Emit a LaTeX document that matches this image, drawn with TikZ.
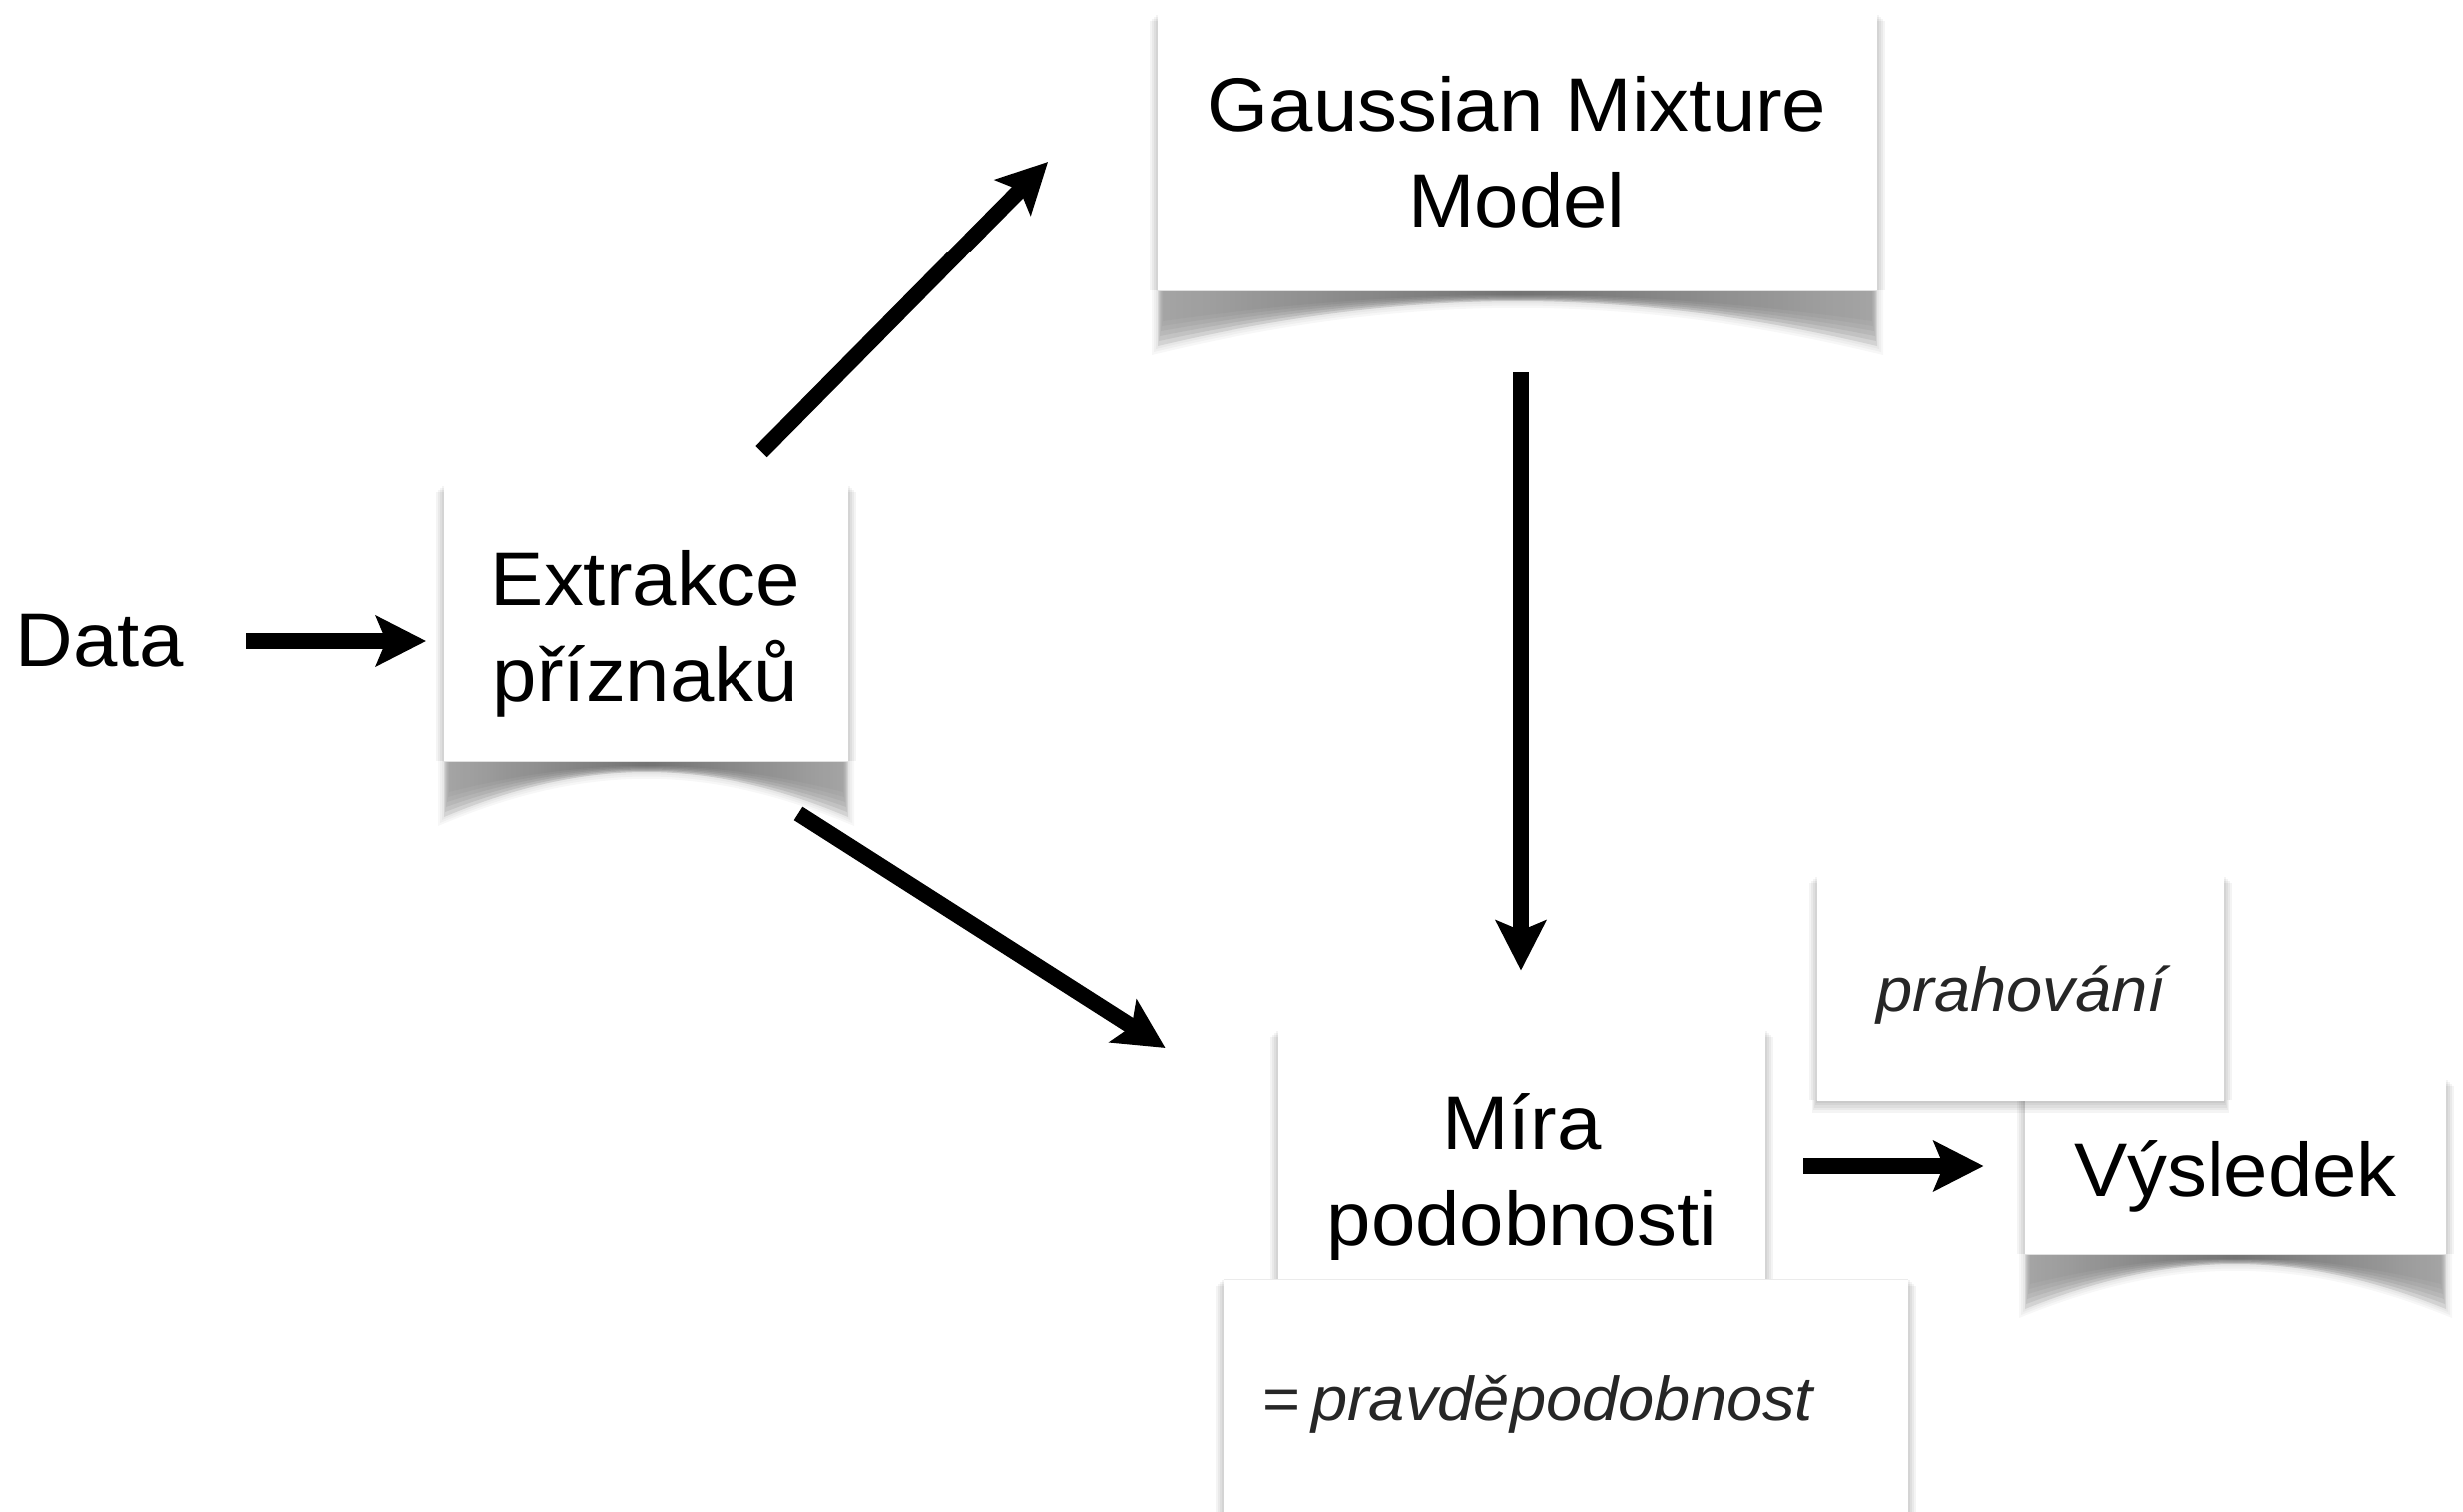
\documentclass[tikz,border=0pt]{standalone}
\usepackage{fontspec}
\setmainfont{Liberation Sans}[FakeStretch=1.05]
\usetikzlibrary{arrows.meta,calc}
% soft side shadows: left top right bottom
\newcommand{\sidesh}[4]{%
  \foreach \k in {1,...,4}{%
    \fill[black,opacity=0.045] (#1-2*\k,#2+2*\k) rectangle (#1,#4);
    \fill[black,opacity=0.045] (#3,#2+2*\k) rectangle (#3+2*\k,#4);}}
% soft bottom shadow: left right bottom
\newcommand{\botsh}[3]{%
  \foreach \k in {1,...,5}{\fill[black,opacity=0.045] (#1-\k,#3) rectangle (#2+\k,#3+2.5*\k);}}
% curled shadow: left right bottom
\newcommand{\curlsh}[3]{%
  \foreach \k in {1,...,3}{\fill[black,opacity=0.03] (#1-2*\k,#3) -- (#1-2*\k,#3+56+3*\k) .. controls ({#1+0.35*(#2-#1)},#3-4+2*\k) and ({#2-0.35*(#2-#1)},#3-4+2*\k) .. (#2+2*\k,#3+56+3*\k) -- (#2+2*\k,#3) -- cycle;}
  \foreach \k in {0,...,5}{%
  \shade[left color=black!40, right color=black!40, middle color=black!64, opacity=0.25]
    (#1+\k,#3) -- (#1+\k,#3+56-5*\k) .. controls ({#1+0.35*(#2-#1)},#3-4) and ({#2-0.35*(#2-#1)},#3-4) .. (#2-\k,#3+56-5*\k) -- (#2-\k,#3) -- cycle;}}
\tikzset{
  card/.style={fill=white, inner sep=0pt},
  big/.style={align=center, font=\fontsize{38}{48}\selectfont},
  note/.style={font=\fontsize{31}{40}\selectfont\itshape, text=black!85},
  arr/.style={line width=8pt, -{Stealth[length=25pt,width=25pt,inset=5pt]}}
}
\begin{document}
\begin{tikzpicture}[x=0.5pt,y=-0.5pt]
\fill[white] (0,0) rectangle (2468,1515);
\useasboundingbox (0,0) rectangle (2468,1515);

\node[inner sep=0pt, big] (data) at (100,642) {Data};

% Extrakce
\sidesh{445}{485}{850}{763}
\curlsh{445}{850}{763}
\node[card, minimum width=202.5pt, minimum height=139pt,
  label={[big, yshift=-5.5pt]center:{Extrakce\\příznaků}}] (ext) at (647,624) {};
\draw[black!12] (ext.south west) -- (ext.south east);

% GMM
\sidesh{1160}{13}{1881}{291}
\curlsh{1160}{1881}{291}
\node[card, minimum width=360.5pt, minimum height=139pt,
  label={[big]center:{Gaussian Mixture\\Model}}] (gmm) at (1520,152) {};
\draw[black!12] (gmm.south west) -- (gmm.south east);

% Mira
\sidesh{1281}{1031}{1769}{1315}
\node[card, minimum width=244pt, minimum height=142pt,
  label={[big, yshift=-3pt]center:{Míra\\podobnosti}}] (mira) at (1525,1173) {};

% pravdepodobnost
\sidesh{1226}{1281}{1912}{1530}
\node[card, minimum width=343pt, minimum height=117pt,
  label={[note, anchor=west, yshift=-3.5pt, xshift=16.5pt]west:{\upshape=\,\itshape pravděpodobnost}}] (pravd) at (1569,1400) {};
\draw[black!8] (pravd.north west) -- (pravd.north east);

% Vysledek
\sidesh{2029}{1080}{2451}{1256}
\curlsh{2029}{2451}{1256}
\node[card, minimum width=211pt, minimum height=88pt,
  label={[big, yshift=-5pt]center:{Výsledek}}] (vys) at (2240,1168) {};
\draw[black!12] (vys.south west) -- (vys.south east);

% prahovani
\sidesh{1821}{877}{2229}{1102}
\botsh{1821}{2229}{1102}
\node[card, minimum width=204pt, minimum height=112.5pt,
  label={[note, yshift=-3.5pt]center:{prahování}}] (prah) at (2025,990) {};

% arrows
\draw[arr] ($(data.east)+(62,0)$) -- ($(data.east -| ext.west)+(-17,0)$);
\draw[arr] ([shift={(116,-32)}]ext.north) -- ([shift={(-109,10)}]gmm.west);
\draw[arr] ([shift={(153,52)}]ext.south) -- ([shift={(-113,-123)}]mira.west);
\draw[arr] ([shift={(4,82)}]gmm.south) -- ([shift={(-1,-58)}]mira.north);
\draw[arr] ([shift={(38,-5)}]mira.east) -- ([shift={(-41,0)}]vys.west);
\end{tikzpicture}
\end{document}
